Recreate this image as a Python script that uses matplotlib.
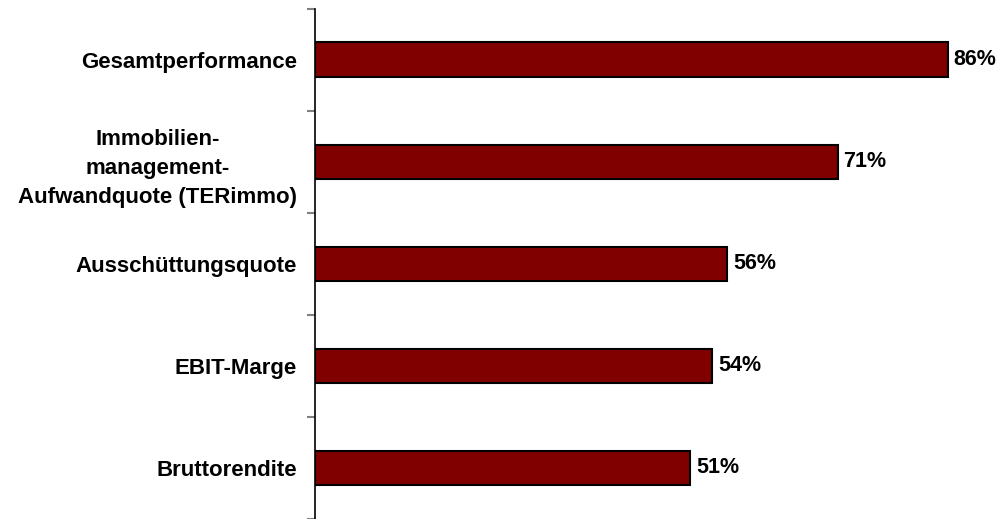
import matplotlib.pyplot as plt

# Kennzahlen und Anteile (in Prozent)
kategorien = ['Gesamtperformance',
              'Immobilien-\nmanagement-\nAufwandquote (TERimmo)',
              'Ausschüttungsquote',
              'EBIT-Marge',
              'Bruttorendite']
werte = [86, 71, 56, 54, 51]

plt.rcParams['font.family'] = ['Liberation Sans', 'DejaVu Sans']

fig = plt.figure(figsize=(10, 5.19), dpi=100)
ax = fig.add_axes([0.315, 0.0, 0.736, 0.983])

pos = list(range(len(kategorien)))
ax.barh(pos, werte, height=0.34, color='#800000', edgecolor='black', linewidth=1.5)

for p, w in zip(pos, werte):
    ax.text(w + 0.8, p, f'{w}%', va='center', ha='left',
            fontsize=15.5, fontweight='bold')

ax.set_xlim(0, 100)
ax.set_ylim(len(kategorien) - 0.5, -0.5)
ax.set_yticks(pos)
ax.set_yticklabels(kategorien, fontsize=16, fontweight='bold', linespacing=1.5,
                   ha='right', multialignment='center')
ax.tick_params(axis='y', length=0, pad=13)
# Trennstriche zwischen den Kategorien
ax.set_yticks([p - 0.5 for p in pos] + [len(pos) - 0.5], minor=True)
ax.tick_params(axis='y', which='minor', length=6, color='#808080', width=1.5)
ax.set_xticks([])

for s in ['top', 'right', 'bottom']:
    ax.spines[s].set_visible(False)
ax.spines['left'].set_linewidth(1.2)

fig.savefig('out.png', dpi=100)
